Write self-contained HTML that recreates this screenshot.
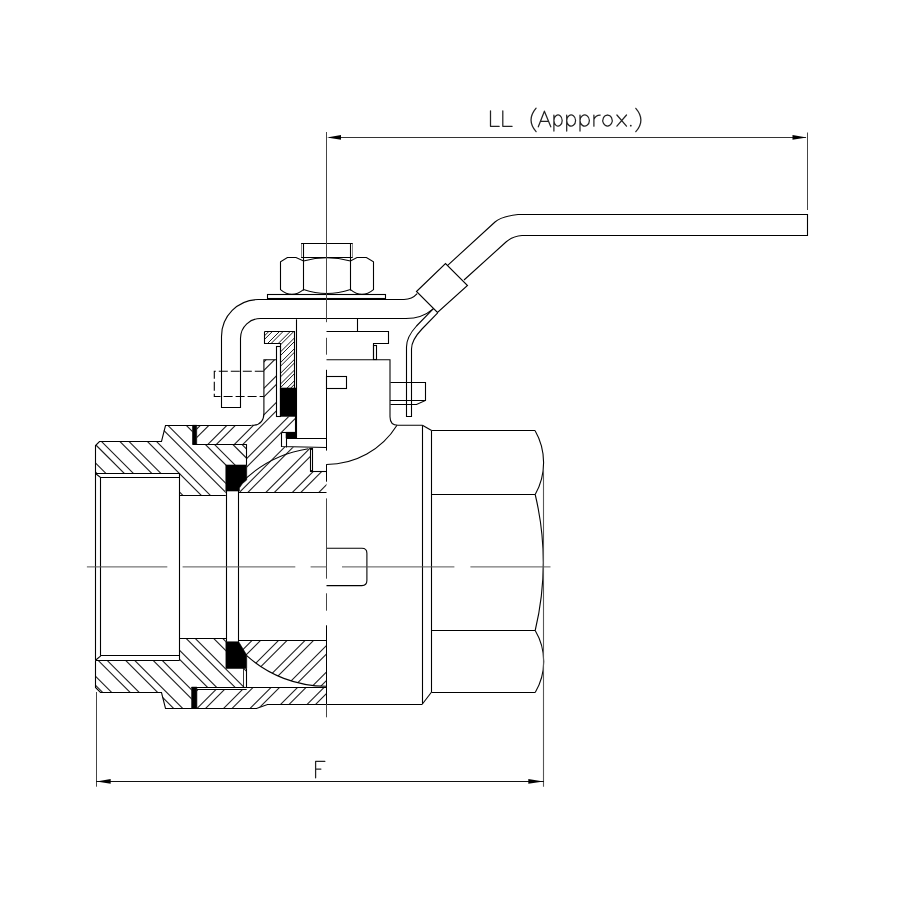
<!DOCTYPE html>
<html><head><meta charset="utf-8"><style>
html,body{margin:0;padding:0;background:#fff;}
svg{display:block;}
</style></head><body>
<svg width="900" height="900" viewBox="0 0 900 900" fill="none">
<rect width="900" height="900" fill="#fff"/>
<clipPath id="c1"><path d="M95.80,445.80 L99.20,441.30 L161.00,441.30 L165.20,425.30 L192.50,425.30 L192.50,444.20 L246.70,444.20 L246.70,465.00 L225.80,465.00 L225.80,495.00 L179.20,495.00 L179.20,473.30 L95.80,473.30 Z"/></clipPath>
<g clip-path="url(#c1)" stroke="#1a1a1a" stroke-width="1.1">
<line x1="90.00" y1="521.60" x2="250.00" y2="681.60"/>
<line x1="90.00" y1="512.50" x2="250.00" y2="672.50"/>
<line x1="90.00" y1="494.10" x2="250.00" y2="654.10"/>
<line x1="90.00" y1="485.00" x2="250.00" y2="645.00"/>
<line x1="90.00" y1="466.60" x2="250.00" y2="626.60"/>
<line x1="90.00" y1="457.50" x2="250.00" y2="617.50"/>
<line x1="90.00" y1="439.10" x2="250.00" y2="599.10"/>
<line x1="90.00" y1="430.00" x2="250.00" y2="590.00"/>
<line x1="90.00" y1="411.60" x2="250.00" y2="571.60"/>
<line x1="90.00" y1="402.50" x2="250.00" y2="562.50"/>
<line x1="90.00" y1="384.10" x2="250.00" y2="544.10"/>
<line x1="90.00" y1="375.00" x2="250.00" y2="535.00"/>
<line x1="90.00" y1="356.60" x2="250.00" y2="516.60"/>
<line x1="90.00" y1="347.50" x2="250.00" y2="507.50"/>
<line x1="90.00" y1="329.10" x2="250.00" y2="489.10"/>
<line x1="90.00" y1="320.00" x2="250.00" y2="480.00"/>
<line x1="90.00" y1="301.60" x2="250.00" y2="461.60"/>
<line x1="90.00" y1="292.50" x2="250.00" y2="452.50"/>
<line x1="90.00" y1="274.10" x2="250.00" y2="434.10"/>
<line x1="90.00" y1="265.00" x2="250.00" y2="425.00"/>
<line x1="90.00" y1="246.60" x2="250.00" y2="406.60"/>
<line x1="90.00" y1="237.50" x2="250.00" y2="397.50"/>
</g>
<clipPath id="c2"><path d="M95.80,660.00 L179.20,660.00 L179.20,638.20 L225.90,638.20 L225.90,668.40 L246.70,668.40 L246.70,687.10 L191.60,687.10 L191.60,708.30 L165.20,708.30 L161.00,692.00 L100.00,692.00 L95.80,687.50 Z"/></clipPath>
<g clip-path="url(#c2)" stroke="#1a1a1a" stroke-width="1.1">
<line x1="90.00" y1="734.80" x2="250.00" y2="894.80"/>
<line x1="90.00" y1="725.70" x2="250.00" y2="885.70"/>
<line x1="90.00" y1="707.30" x2="250.00" y2="867.30"/>
<line x1="90.00" y1="698.20" x2="250.00" y2="858.20"/>
<line x1="90.00" y1="679.80" x2="250.00" y2="839.80"/>
<line x1="90.00" y1="670.70" x2="250.00" y2="830.70"/>
<line x1="90.00" y1="652.30" x2="250.00" y2="812.30"/>
<line x1="90.00" y1="643.20" x2="250.00" y2="803.20"/>
<line x1="90.00" y1="624.80" x2="250.00" y2="784.80"/>
<line x1="90.00" y1="615.70" x2="250.00" y2="775.70"/>
<line x1="90.00" y1="597.30" x2="250.00" y2="757.30"/>
<line x1="90.00" y1="588.20" x2="250.00" y2="748.20"/>
<line x1="90.00" y1="569.80" x2="250.00" y2="729.80"/>
<line x1="90.00" y1="560.70" x2="250.00" y2="720.70"/>
<line x1="90.00" y1="542.30" x2="250.00" y2="702.30"/>
<line x1="90.00" y1="533.20" x2="250.00" y2="693.20"/>
<line x1="90.00" y1="514.80" x2="250.00" y2="674.80"/>
<line x1="90.00" y1="505.70" x2="250.00" y2="665.70"/>
<line x1="90.00" y1="487.30" x2="250.00" y2="647.30"/>
<line x1="90.00" y1="478.20" x2="250.00" y2="638.20"/>
<line x1="90.00" y1="459.80" x2="250.00" y2="619.80"/>
<line x1="90.00" y1="450.70" x2="250.00" y2="610.70"/>
</g>
<clipPath id="c3"><path d="M196.7,425.3 L251.7,425.3 Q263.9,425.3 263.9,412.9 L263.9,359.7 L276.3,359.7 L276.3,416.4 L295.9,416.4 L295.9,432.4 L281.7,432.4 L281.7,446.7 L310.4,448 L310.4,471.8 L326.5,471.8 L326.5,492 L239.4,492 L239.4,488 L242.5,483.5 L246.7,480 L246.7,444.2 L196.7,444.2 Z"/></clipPath>
<g clip-path="url(#c3)" stroke="#1a1a1a" stroke-width="1.1">
<line x1="190.00" y1="329.80" x2="330.00" y2="189.80"/>
<line x1="190.00" y1="338.30" x2="330.00" y2="198.30"/>
<line x1="190.00" y1="356.30" x2="330.00" y2="216.30"/>
<line x1="190.00" y1="364.80" x2="330.00" y2="224.80"/>
<line x1="190.00" y1="382.80" x2="330.00" y2="242.80"/>
<line x1="190.00" y1="391.30" x2="330.00" y2="251.30"/>
<line x1="190.00" y1="409.30" x2="330.00" y2="269.30"/>
<line x1="190.00" y1="417.80" x2="330.00" y2="277.80"/>
<line x1="190.00" y1="435.80" x2="330.00" y2="295.80"/>
<line x1="190.00" y1="444.30" x2="330.00" y2="304.30"/>
<line x1="190.00" y1="462.30" x2="330.00" y2="322.30"/>
<line x1="190.00" y1="470.80" x2="330.00" y2="330.80"/>
<line x1="190.00" y1="488.80" x2="330.00" y2="348.80"/>
<line x1="190.00" y1="497.30" x2="330.00" y2="357.30"/>
<line x1="190.00" y1="515.30" x2="330.00" y2="375.30"/>
<line x1="190.00" y1="523.80" x2="330.00" y2="383.80"/>
<line x1="190.00" y1="541.80" x2="330.00" y2="401.80"/>
<line x1="190.00" y1="550.30" x2="330.00" y2="410.30"/>
<line x1="190.00" y1="568.30" x2="330.00" y2="428.30"/>
<line x1="190.00" y1="576.80" x2="330.00" y2="436.80"/>
<line x1="190.00" y1="594.80" x2="330.00" y2="454.80"/>
<line x1="190.00" y1="603.30" x2="330.00" y2="463.30"/>
<line x1="190.00" y1="621.30" x2="330.00" y2="481.30"/>
<line x1="190.00" y1="629.80" x2="330.00" y2="489.80"/>
<line x1="190.00" y1="647.80" x2="330.00" y2="507.80"/>
<line x1="190.00" y1="656.30" x2="330.00" y2="516.30"/>
</g>
<clipPath id="c4"><path d="M264.20,331.30 L295.00,331.30 L295.00,388.00 L280.30,388.00 L280.30,343.10 L264.20,343.10 Z"/></clipPath>
<g clip-path="url(#c4)" stroke="#1a1a1a" stroke-width="1.0">
<line x1="260.00" y1="318.90" x2="298.00" y2="280.90"/>
<line x1="260.00" y1="322.50" x2="298.00" y2="284.50"/>
<line x1="260.00" y1="329.60" x2="298.00" y2="291.60"/>
<line x1="260.00" y1="333.20" x2="298.00" y2="295.20"/>
<line x1="260.00" y1="340.30" x2="298.00" y2="302.30"/>
<line x1="260.00" y1="343.90" x2="298.00" y2="305.90"/>
<line x1="260.00" y1="351.00" x2="298.00" y2="313.00"/>
<line x1="260.00" y1="354.60" x2="298.00" y2="316.60"/>
<line x1="260.00" y1="361.70" x2="298.00" y2="323.70"/>
<line x1="260.00" y1="365.30" x2="298.00" y2="327.30"/>
<line x1="260.00" y1="372.40" x2="298.00" y2="334.40"/>
<line x1="260.00" y1="376.00" x2="298.00" y2="338.00"/>
<line x1="260.00" y1="383.10" x2="298.00" y2="345.10"/>
<line x1="260.00" y1="386.70" x2="298.00" y2="348.70"/>
<line x1="260.00" y1="393.80" x2="298.00" y2="355.80"/>
<line x1="260.00" y1="397.40" x2="298.00" y2="359.40"/>
<line x1="260.00" y1="404.50" x2="298.00" y2="366.50"/>
<line x1="260.00" y1="408.10" x2="298.00" y2="370.10"/>
<line x1="260.00" y1="415.20" x2="298.00" y2="377.20"/>
<line x1="260.00" y1="418.80" x2="298.00" y2="380.80"/>
<line x1="260.00" y1="425.90" x2="298.00" y2="387.90"/>
<line x1="260.00" y1="429.50" x2="298.00" y2="391.50"/>
<line x1="260.00" y1="436.60" x2="298.00" y2="398.60"/>
<line x1="260.00" y1="440.20" x2="298.00" y2="402.20"/>
</g>
<clipPath id="c5"><path d="M238.7,640.5 L326.5,640.5 L326.5,686.3 A119.5,119.5 0 0 1 246.7,655.7 L238.7,648 Z"/></clipPath>
<g clip-path="url(#c5)" stroke="#1a1a1a" stroke-width="1.1">
<line x1="235.00" y1="631.00" x2="330.00" y2="536.00"/>
<line x1="235.00" y1="639.50" x2="330.00" y2="544.50"/>
<line x1="235.00" y1="657.50" x2="330.00" y2="562.50"/>
<line x1="235.00" y1="666.00" x2="330.00" y2="571.00"/>
<line x1="235.00" y1="684.00" x2="330.00" y2="589.00"/>
<line x1="235.00" y1="692.50" x2="330.00" y2="597.50"/>
<line x1="235.00" y1="710.50" x2="330.00" y2="615.50"/>
<line x1="235.00" y1="719.00" x2="330.00" y2="624.00"/>
<line x1="235.00" y1="737.00" x2="330.00" y2="642.00"/>
<line x1="235.00" y1="745.50" x2="330.00" y2="650.50"/>
<line x1="235.00" y1="763.50" x2="330.00" y2="668.50"/>
<line x1="235.00" y1="772.00" x2="330.00" y2="677.00"/>
<line x1="235.00" y1="790.00" x2="330.00" y2="695.00"/>
<line x1="235.00" y1="798.50" x2="330.00" y2="703.50"/>
</g>
<clipPath id="c6"><path d="M196.90,689.80 L246.70,689.80 L246.70,687.10 L326.50,687.10 L326.50,704.00 L267.10,704.00 L256.40,708.40 L196.90,708.40 Z"/></clipPath>
<g clip-path="url(#c6)" stroke="#1a1a1a" stroke-width="1.1">
<line x1="190.00" y1="662.50" x2="330.00" y2="522.50"/>
<line x1="190.00" y1="671.00" x2="330.00" y2="531.00"/>
<line x1="190.00" y1="689.00" x2="330.00" y2="549.00"/>
<line x1="190.00" y1="697.50" x2="330.00" y2="557.50"/>
<line x1="190.00" y1="715.50" x2="330.00" y2="575.50"/>
<line x1="190.00" y1="724.00" x2="330.00" y2="584.00"/>
<line x1="190.00" y1="742.00" x2="330.00" y2="602.00"/>
<line x1="190.00" y1="750.50" x2="330.00" y2="610.50"/>
<line x1="190.00" y1="768.50" x2="330.00" y2="628.50"/>
<line x1="190.00" y1="777.00" x2="330.00" y2="637.00"/>
<line x1="190.00" y1="795.00" x2="330.00" y2="655.00"/>
<line x1="190.00" y1="803.50" x2="330.00" y2="663.50"/>
<line x1="190.00" y1="821.50" x2="330.00" y2="681.50"/>
<line x1="190.00" y1="830.00" x2="330.00" y2="690.00"/>
<line x1="190.00" y1="848.00" x2="330.00" y2="708.00"/>
<line x1="190.00" y1="856.50" x2="330.00" y2="716.50"/>
<line x1="190.00" y1="874.50" x2="330.00" y2="734.50"/>
<line x1="190.00" y1="883.00" x2="330.00" y2="743.00"/>
</g>
<path d="M192.50,425.30 L196.70,425.30 L196.70,444.20 L192.50,444.20 Z" fill="#000" stroke="#000" stroke-width="0.6"/>
<path d="M225.80,465.00 L246.70,465.00 L246.70,480.00 L242.50,483.50 L239.40,488.00 L239.40,491.00 L225.80,491.00 Z" fill="#000" stroke="#000" stroke-width="0.6"/>
<path d="M280.30,388.00 L295.90,388.00 L295.90,416.40 L280.30,416.40 Z" fill="#000" stroke="#000" stroke-width="0.6"/>
<path d="M286.10,432.40 L296.30,432.40 L296.30,438.20 L286.10,438.20 Z" fill="#000" stroke="#000" stroke-width="0.6"/>
<path d="M191.60,687.10 L196.90,687.10 L196.90,708.40 L191.60,708.40 Z" fill="#000" stroke="#000" stroke-width="0.6"/>
<path d="M225.90,641.80 L238.70,641.80 L246.70,655.00 L246.70,668.40 L225.90,668.40 Z" fill="#000" stroke="#000" stroke-width="0.6"/>
<path d="M95.50,660.50 L95.50,445.50 L99.50,441.50 L161.50,441.50 L165.50,425.50 L251.50,425.50" stroke="#000" stroke-width="1.1" fill="none" />
<path d="M251.7,425.3 Q263.9,425.3 263.9,412.9 L263.9,359.7 L276.3,359.7" stroke="#000" stroke-width="1.1" fill="none" />
<line x1="192.50" y1="444.50" x2="246.70" y2="444.50" stroke="#000" stroke-width="1.1" />
<line x1="246.50" y1="444.20" x2="246.50" y2="465.00" stroke="#000" stroke-width="1.1" />
<line x1="100.50" y1="477.50" x2="100.50" y2="655.80" stroke="#000" stroke-width="1.1" />
<path d="M95.50,473.50 L179.50,473.50 L179.50,660.50" stroke="#000" stroke-width="1.1" fill="none" />
<path d="M95.50,473.50 L100.50,477.50 L179.50,477.50" stroke="#000" stroke-width="1.1" fill="none" />
<line x1="179.20" y1="495.50" x2="225.80" y2="495.50" stroke="#000" stroke-width="1.1" />
<line x1="226.50" y1="490.80" x2="226.50" y2="641.80" stroke="#000" stroke-width="1.1" />
<line x1="238.50" y1="490.80" x2="238.50" y2="641.80" stroke="#000" stroke-width="1.1" />
<line x1="238.70" y1="492.50" x2="326.50" y2="492.50" stroke="#000" stroke-width="1.1" />
<path d="M95.50,660.50 L179.50,660.50" stroke="#000" stroke-width="1.1" fill="none" />
<path d="M100.50,655.50 L179.50,655.50" stroke="#000" stroke-width="1.1" fill="none" />
<line x1="95.80" y1="660.00" x2="100.80" y2="655.80" stroke="#000" stroke-width="1.1" />
<path d="M95.50,660.50 L95.50,687.50 L100.50,692.50 L161.50,692.50 L165.50,708.50 L256.50,708.50 L267.50,704.50 L422.50,704.50" stroke="#000" stroke-width="1.1" fill="none" />
<line x1="179.20" y1="638.50" x2="226.30" y2="638.50" stroke="#000" stroke-width="1.1" />
<line x1="238.70" y1="640.50" x2="326.50" y2="640.50" stroke="#000" stroke-width="1.1" />
<line x1="191.60" y1="687.50" x2="326.50" y2="687.50" stroke="#000" stroke-width="1.1" />
<line x1="196.90" y1="689.50" x2="246.70" y2="689.50" stroke="#000" stroke-width="1.1" />
<line x1="246.50" y1="668.40" x2="246.50" y2="687.10" stroke="#000" stroke-width="1.1" />
<line x1="243.50" y1="668.40" x2="243.50" y2="687.10" stroke="#000" stroke-width="0.8" />
<path d="M239.2,485.2 A119.5,119.5 0 0 1 308.3,448.7" stroke="#000" stroke-width="1.1" fill="none" />
<path d="M246.7,655.7 A119.5,119.5 0 0 0 326.5,686.3" stroke="#000" stroke-width="1.1" fill="none" />
<rect x="276.50" y="346.50" width="4.00" height="70.00" stroke="#000" stroke-width="1.1" fill="none"/>
<path d="M264.50,331.50 L294.50,331.50 L294.50,388.50" stroke="#000" stroke-width="1.1" fill="none" />
<path d="M264.50,331.50 L264.50,343.50 L280.50,343.50 L280.50,388.50" stroke="#000" stroke-width="1.1" fill="none" />
<line x1="295.50" y1="388.00" x2="295.50" y2="432.40" stroke="#000" stroke-width="1.1" />
<line x1="296.50" y1="319.30" x2="296.50" y2="438.20" stroke="#000" stroke-width="1.1" />
<path d="M281.50,432.50 L281.50,446.50 L326.50,447.50" stroke="#000" stroke-width="1.1" fill="none" />
<line x1="281.70" y1="432.50" x2="296.30" y2="432.50" stroke="#000" stroke-width="1.1" />
<line x1="286.10" y1="438.50" x2="326.50" y2="438.50" stroke="#000" stroke-width="1.1" />
<line x1="286.50" y1="432.40" x2="286.50" y2="447.50" stroke="#000" stroke-width="1.1" />
<rect x="310.50" y="448.50" width="2.00" height="23.00" stroke="#000" stroke-width="1.1" fill="none"/>
<line x1="312.60" y1="471.50" x2="326.50" y2="471.50" stroke="#000" stroke-width="1.1" />
<line x1="326.50" y1="369.80" x2="326.50" y2="450.60" stroke="#000" stroke-width="1.0" />
<line x1="326.50" y1="464.20" x2="326.50" y2="481.70" stroke="#000" stroke-width="1.0" />
<line x1="326.50" y1="625.30" x2="326.50" y2="704.00" stroke="#000" stroke-width="1.0" />
<line x1="301.50" y1="243.40" x2="301.50" y2="257.40" stroke="#888" stroke-width="1.0" />
<line x1="352.50" y1="243.40" x2="352.50" y2="257.40" stroke="#888" stroke-width="1.0" />
<line x1="301.10" y1="243.50" x2="352.70" y2="243.50" stroke="#000" stroke-width="1.1" />
<line x1="301.10" y1="257.50" x2="352.70" y2="257.50" stroke="#000" stroke-width="1.1" />
<line x1="303.50" y1="243.40" x2="303.50" y2="290.50" stroke="#000" stroke-width="1.1" />
<line x1="350.50" y1="243.40" x2="350.50" y2="290.50" stroke="#000" stroke-width="1.1" />
<path d="M287.4,257.5 L296,257.5 L303.5,261 Q326.5,254.5 350.5,261 L357,257.5 L366.4,257.5 L373.5,261.8 L373.5,289.6 Q362,299 350.5,289.6 Q326.5,297.5 303.5,289.6 Q291.8,299 280.5,289.6 L280.5,261.8 Z" stroke="#000" stroke-width="1.1" fill="none" />
<rect x="267.50" y="294.50" width="118.00" height="4.00" stroke="#000" stroke-width="1.1" fill="none"/>
<path d="M258,299.5 A37,37 0 0 0 221.5,336.4 L221.5,407.5 L240.5,407.5 L240.5,338.3 A20,20 0 0 1 261.5,318.5 L406,318.5 Q422,318.5 433.2,308.8" stroke="#000" stroke-width="1.1" fill="none" />
<path d="M258,299.5 L404,299.5 Q412,299.5 417.2,293.7" stroke="#000" stroke-width="1.1" fill="none" />
<path d="M416.50,291.50 L445.50,263.50 L467.50,285.50 L437.50,312.50 Z" stroke="#000" stroke-width="1.1" fill="none" />
<path d="M447.4,265.6 L495,222 Q501,216.5 518,214.5 L807.5,214.5 L807.5,235.5 L522,235.5 Q513,236 506,242 L464,280" stroke="#000" stroke-width="1.1" fill="none" />
<path d="M437.7,312.8 L422,329 Q411.5,340 411.5,349 L411.5,416.5 L406.5,416.5 L406.5,347 Q406.5,337 416.5,326 L433.2,308.8" stroke="#000" stroke-width="1.1" fill="none" />
<line x1="357.50" y1="318.80" x2="357.50" y2="331.30" stroke="#000" stroke-width="1.1" />
<path d="M326.50,331.50 L388.50,331.50 L388.50,343.50 L373.50,343.50 L373.50,359.50" stroke="#000" stroke-width="1.1" fill="none" />
<rect x="373.50" y="345.50" width="3.00" height="14.00" stroke="#000" stroke-width="1.1" fill="none"/>
<path d="M326.5,359.7 L390,359.7 L390,416.7 Q390,425.3 398,425.3 L422.4,425.3" stroke="#000" stroke-width="1.1" fill="none" />
<rect x="326.50" y="376.50" width="20.00" height="12.00" stroke="#000" stroke-width="1.1" fill="none"/>
<path d="M390.50,382.50 L425.50,382.50 L425.50,400.50 L416.50,404.50 L390.50,404.50" stroke="#000" stroke-width="1.1" fill="none" />
<line x1="390.00" y1="400.50" x2="425.80" y2="400.50" stroke="#000" stroke-width="1.1" />
<path d="M397,425.3 A83,83 0 0 1 326.5,464.5" stroke="#000" stroke-width="1.1" fill="none" />
<path d="M263.8,371.3 L214.3,371.3 L214.3,396.5 L263.8,396.5" stroke="#000" stroke-width="1.1" fill="none" stroke-dasharray="9,3"/>
<line x1="422.50" y1="425.30" x2="422.50" y2="704.00" stroke="#000" stroke-width="1.1" />
<line x1="431.50" y1="430.40" x2="431.50" y2="692.00" stroke="#000" stroke-width="1.1" />
<line x1="422.40" y1="425.30" x2="431.60" y2="430.40" stroke="#000" stroke-width="1.1" />
<line x1="422.40" y1="704.00" x2="431.60" y2="692.00" stroke="#000" stroke-width="1.1" />
<line x1="431.60" y1="430.50" x2="535.00" y2="430.50" stroke="#000" stroke-width="1.1" />
<line x1="431.60" y1="494.50" x2="535.20" y2="494.50" stroke="#000" stroke-width="1.1" />
<line x1="431.60" y1="630.50" x2="535.20" y2="630.50" stroke="#000" stroke-width="1.1" />
<line x1="431.60" y1="692.50" x2="535.20" y2="692.50" stroke="#000" stroke-width="1.1" />
<path d="M535,430.5 A64.5,64.5 0 0 1 535.2,494.5" stroke="#000" stroke-width="1.1" fill="none" />
<path d="M535.2,494.5 A293,293 0 0 1 535.2,630.5" stroke="#000" stroke-width="1.1" fill="none" />
<path d="M535.2,630.5 A60.7,60.7 0 0 1 535.2,692.5" stroke="#000" stroke-width="1.1" fill="none" />
<path d="M326.5,548.2 L361.9,548.2 Q366.9,548.2 366.9,553.2 L366.9,580.6 Q366.9,585.6 361.9,585.6 L326.5,585.6" stroke="#000" stroke-width="1.1" fill="none" />
<line x1="326.50" y1="132.00" x2="326.50" y2="322.20" stroke="#444" stroke-width="1.0" />
<line x1="326.50" y1="337.80" x2="326.50" y2="354.70" stroke="#444" stroke-width="1.0" />
<line x1="326.50" y1="498.40" x2="326.50" y2="578.70" stroke="#444" stroke-width="1.0" />
<line x1="326.50" y1="593.30" x2="326.50" y2="610.70" stroke="#444" stroke-width="1.0" />
<line x1="326.50" y1="704.00" x2="326.50" y2="717.30" stroke="#444" stroke-width="1.0" />
<line x1="86.90" y1="566.90" x2="167.30" y2="566.90" stroke="#555" stroke-width="1.0" />
<line x1="182.60" y1="566.90" x2="295.30" y2="566.90" stroke="#555" stroke-width="1.0" />
<line x1="310.60" y1="566.90" x2="327.00" y2="566.90" stroke="#555" stroke-width="1.0" />
<line x1="342.00" y1="566.90" x2="454.40" y2="566.90" stroke="#555" stroke-width="1.0" />
<line x1="470.40" y1="566.90" x2="550.50" y2="566.90" stroke="#555" stroke-width="1.0" />
<line x1="807.50" y1="132.50" x2="807.50" y2="210.00" stroke="#444" stroke-width="1.0" />
<line x1="329.00" y1="137.50" x2="806.00" y2="137.50" stroke="#333" stroke-width="1.0" />
<path d="M327,137.4 L341,135 L341,139.8 Z" fill="#000"/>
<path d="M806.7,137.4 L792.5,135 L792.5,139.8 Z" fill="#000"/>
<line x1="96.50" y1="692.00" x2="96.50" y2="786.70" stroke="#444" stroke-width="1.0" />
<line x1="543.50" y1="470.00" x2="543.50" y2="786.70" stroke="#555" stroke-width="1.1" />
<line x1="96.00" y1="781.50" x2="544.00" y2="781.50" stroke="#111" stroke-width="1.0" />
<path d="M96.5,781.4 L110.7,779 L110.7,783.8 Z" fill="#000"/>
<path d="M543.5,781.4 L528.3,779 L528.3,783.8 Z" fill="#000"/>
<path d="M490.5,110.8 L490.5,126.3 L499.2,126.3" stroke="#222" stroke-width="1.25" fill="none" stroke-linecap="round" stroke-linejoin="round"/>
<path d="M502.8,110.8 L502.8,126.3 L512.1,126.3" stroke="#222" stroke-width="1.25" fill="none" stroke-linecap="round" stroke-linejoin="round"/>
<path d="M536.1,108.1 Q526,119.9 536.1,131.7" stroke="#222" stroke-width="1.25" fill="none" stroke-linecap="round" stroke-linejoin="round"/>
<path d="M538.3,126.8 L544.4,111.2 L550.8,126.8 M540.4,121.4 L548.6,121.4" stroke="#222" stroke-width="1.25" fill="none" stroke-linecap="round" stroke-linejoin="round"/>
<path d="M553.9,115 L553.9,131.1 M553.9,120.5 A4.15,5.55 0 1 1 553.9,120.6" stroke="#222" stroke-width="1.25" fill="none" stroke-linecap="round" stroke-linejoin="round"/>
<path d="M566.7,115 L566.7,131.1 M566.7,120.5 A4.45,5.55 0 1 1 566.7,120.6" stroke="#222" stroke-width="1.25" fill="none" stroke-linecap="round" stroke-linejoin="round"/>
<path d="M580,115 L580,131.1 M580,120.5 A4.70,5.55 0 1 1 580,120.6" stroke="#222" stroke-width="1.25" fill="none" stroke-linecap="round" stroke-linejoin="round"/>
<path d="M593.9,115 L593.9,126.2 M593.9,119.5 Q595.5,115 600.2,115" stroke="#222" stroke-width="1.25" fill="none" stroke-linecap="round" stroke-linejoin="round"/>
<path d="M607.5,115 A4.7,5.55 0 1 0 607.51,115" stroke="#222" stroke-width="1.25" fill="none" stroke-linecap="round" stroke-linejoin="round"/>
<path d="M616.9,115 L626.5,126.2 M626.5,115 L616.9,126.2" stroke="#222" stroke-width="1.25" fill="none" stroke-linecap="round" stroke-linejoin="round"/>
<circle cx="630.8" cy="125.7" r="0.9" fill="#222"/>
<path d="M635.8,108.3 Q646,120 635.8,131.7" stroke="#222" stroke-width="1.25" fill="none" stroke-linecap="round" stroke-linejoin="round"/>
<path d="M315.6,777.8 L315.6,761.3 L324.9,761.3 M315.6,769.1 L320.9,769.1" stroke="#222" stroke-width="1.25" fill="none" stroke-linecap="round" stroke-linejoin="round"/>
</svg></body></html>
